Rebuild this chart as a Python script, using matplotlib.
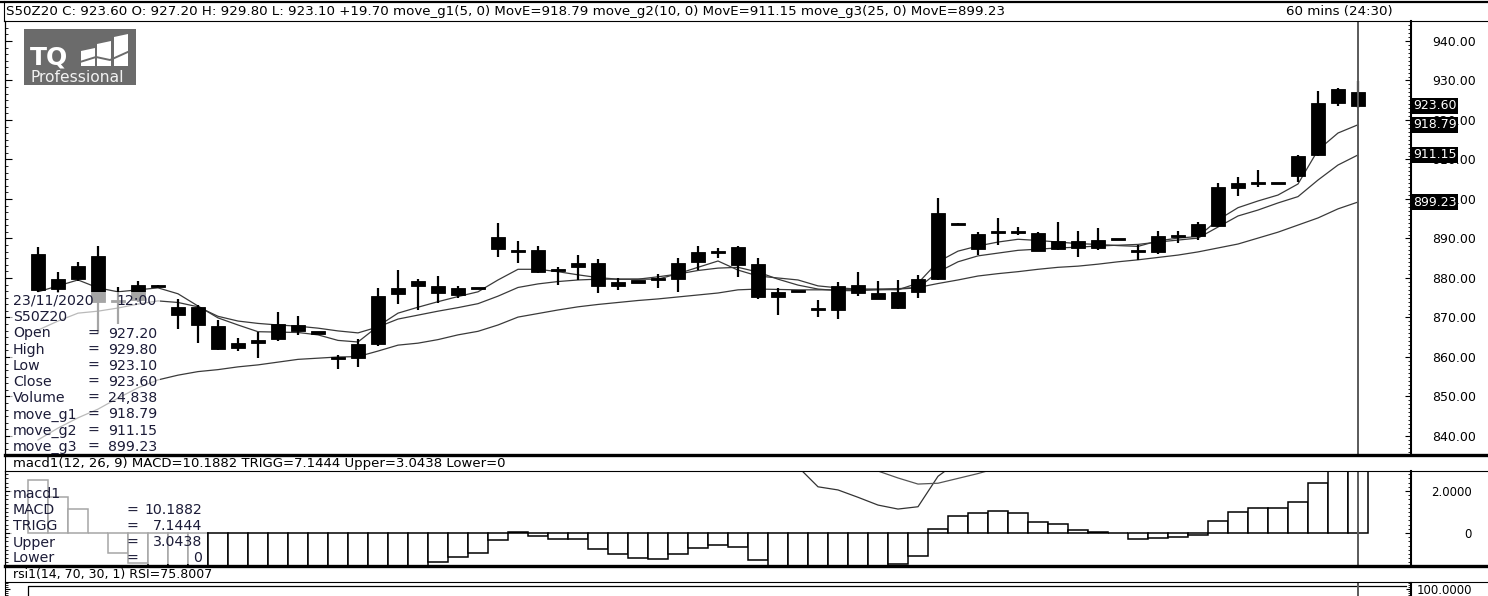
import numpy as np
import matplotlib
matplotlib.use('Agg')
import matplotlib.pyplot as plt
from matplotlib.patches import Rectangle, Polygon
from matplotlib.ticker import MultipleLocator, FuncFormatter
from matplotlib.transforms import blended_transform_factory

plt.rcParams['font.family'] = 'DejaVu Sans'

# --- hourly candles, S50Z20 (all drawn as filled black bodies) ---
highs = [887.8, 881.5, 884.1, 888.1, 877.7, 879.2, 878.2, 874.7, 873.2, 869.4,
         864.8, 866.4, 871.5, 870.4, 866.3, 860.5, 864.6, 877.5, 882.0, 879.7,
         880.6, 878.0, 877.5, 893.8, 889.4, 888.1, 882.7, 885.8, 884.7, 879.9,
         879.2, 880.9, 885.1, 888.1, 887.6, 888.1, 885.0, 877.4, 876.8, 874.4,
         879.1, 881.6, 879.2, 879.5, 880.8, 900.2, 893.8, 891.6, 895.1, 893.0,
         891.6, 894.1, 891.9, 892.6, 889.9, 888.4, 891.9, 892.0, 894.1, 904.1,
         905.5, 907.3, 904.1, 911.1, 927.4, 928.0, 929.8]
lows = [876.5, 876.2, 879.2, 866.1, 868.4, 874.0, 877.8, 867.1, 863.5, 861.8,
        861.6, 859.7, 864.1, 865.6, 866.1, 856.9, 857.5, 862.8, 873.4, 871.9,
        873.6, 874.9, 877.3, 885.4, 883.9, 881.3, 878.1, 879.5, 876.1, 877.0,
        879.0, 877.4, 876.5, 882.0, 885.1, 880.2, 874.6, 870.6, 876.6, 870.2,
        869.5, 875.4, 874.6, 872.1, 874.9, 879.5, 893.6, 885.8, 888.4, 890.9,
        886.8, 887.1, 885.4, 887.1, 889.7, 884.6, 886.1, 888.8, 889.6, 893.0,
        900.8, 903.0, 903.9, 904.4, 910.9, 923.5, 923.1]
body_top = [886.1, 879.7, 883.0, 885.6, 874.4, 878.2, 878.1, 872.7, 872.7, 867.9,
            863.6, 864.0, 868.4, 868.1, 866.25, 859.8, 863.3, 875.4, 877.5, 879.3,
            878.0, 877.5, 877.45, 890.3, 887.0, 887.1, 882.1, 883.7, 883.7, 878.9,
            879.15, 879.8, 883.7, 886.6, 886.6, 887.9, 883.5, 876.5, 876.75, 872.2,
            878.0, 878.2, 876.1, 876.5, 879.7, 896.4, 893.75, 891.1, 891.7, 891.8,
            891.3, 889.4, 889.4, 889.6, 889.85, 887.0, 890.6, 890.7, 893.6, 903.1,
            904.1, 904.1, 904.05, 910.9, 924.4, 927.8, 927.2]
body_bot = [877.0, 877.2, 879.7, 873.9, 874.1, 874.5, 877.9, 870.6, 868.1, 861.9,
            862.4, 863.8, 864.6, 866.7, 866.15, 859.6, 859.8, 863.2, 875.9, 878.0,
            876.1, 875.7, 877.35, 887.3, 886.8, 881.6, 881.9, 882.7, 878.0, 878.0,
            879.05, 879.6, 879.7, 884.1, 886.4, 883.3, 875.1, 875.3, 876.65, 872.0,
            871.9, 876.1, 874.7, 872.5, 876.5, 879.7, 893.65, 887.3, 891.5, 891.6,
            886.9, 887.3, 887.5, 887.5, 889.75, 886.8, 886.6, 890.5, 890.6, 893.2,
            902.9, 903.9, 903.95, 905.8, 911.1, 924.4, 923.6]

# moving averages (5, 10, 25 bars)
ma1 = [876.5, 878.0, 879.5, 877.5, 876.5, 877.0, 877.5, 876.0, 872.9, 869.9,
       868.1, 866.4, 866.3, 866.2, 865.6, 864.2, 863.8, 867.8, 871.1, 872.6,
       874.0, 875.3, 876.5, 879.5, 882.2, 882.2, 881.6, 880.8, 880.1, 879.7,
       879.7, 879.7, 881.1, 882.7, 884.3, 882.0, 880.5, 880.0, 879.5, 878.0,
       877.5, 877.2, 877.1, 877.0, 878.7, 884.1, 886.8, 888.1, 889.1, 889.8,
       889.5, 889.1, 888.7, 888.5, 888.2, 888.0, 889.4, 890.1, 890.5, 894.7,
       897.8, 899.5, 901.0, 903.8, 912.4, 916.7, 918.79]
ma2 = [866.8, 869.1, 871.1, 871.6, 872.4, 873.4, 874.2, 873.8, 872.7, 870.3,
       869.1, 868.5, 868.1, 867.8, 867.3, 866.6, 866.1, 867.6, 869.6, 870.6,
       871.6, 872.5, 873.5, 875.4, 877.6, 878.5, 879.1, 879.5, 879.7, 879.7,
       879.7, 880.3, 881.0, 881.9, 882.5, 882.7, 881.5, 879.7, 878.2, 877.2,
       876.8, 876.8, 877.0, 877.2, 877.5, 881.5, 884.1, 885.6, 886.3, 887.0,
       887.3, 887.6, 887.8, 888.1, 888.3, 888.5, 889.1, 889.6, 890.1, 892.9,
       895.7, 897.2, 899.0, 900.6, 904.8, 908.6, 911.15]
ma3 = [839.0, 842.0, 844.6, 846.8, 849.6, 852.2, 854.2, 855.4, 856.3, 856.8,
       857.5, 858.0, 858.7, 859.4, 859.7, 860.0, 860.1, 861.5, 863.0, 863.5,
       864.4, 865.6, 866.5, 868.1, 870.1, 871.0, 871.9, 872.7, 873.3, 873.8,
       874.3, 874.7, 875.2, 875.7, 876.2, 877.0, 877.2, 877.1, 877.0, 877.0,
       877.0, 877.1, 877.2, 877.3, 877.6, 878.6, 879.5, 880.5, 881.1, 881.6,
       882.2, 882.7, 883.0, 883.5, 884.1, 884.6, 885.2, 885.8, 886.6, 887.6,
       888.6, 890.1, 891.6, 893.4, 895.2, 897.5, 899.23]

# MACD histogram (MACD - TRIGG); values past the panel edge are estimates
hist = [2.52, 1.73, 1.14, 0.02, -0.97, -1.44, -1.8, -2.0, -2.1, -2.2,
        -2.3, -2.3, -2.2, -2.1, -2.0, -2.0, -1.9, -1.8, -1.7, -1.6,
        -1.38, -1.16, -0.97, -0.33, 0.07, -0.12, -0.27, -0.3, -0.78, -1.02,
        -1.18, -1.23, -1.02, -0.73, -0.55, -0.65, -1.3, -1.7, -1.9, -2.0,
        -2.0, -1.9, -1.7, -1.48, -1.1, 0.19, 0.82, 0.97, 1.05, 0.97,
        0.54, 0.41, 0.14, 0.06, 0.02, -0.3, -0.25, -0.2, -0.1, 0.59,
        0.98, 1.17, 1.17, 1.49, 2.4, 3.2, 3.0438]
nan = np.nan
# MACD / TRIGG lines only dip into view around bars 38-49
macd_line = [nan] * 37 + [4.2, 3.15, 2.2, 2.05, 1.7, 1.33, 1.14, 1.25, 2.7, 3.4] + [nan] * 20
trigg_line = [nan] * 41 + [3.3, 2.95, 2.62, 2.33, 2.37, 2.6, 2.83, 3.1] + [nan] * 18

header = ('S50Z20 C: 923.60 O: 927.20 H: 929.80 L: 923.10 +19.70 move_g1(5, 0) MovE=918.79 '
          'move_g2(10, 0) MovE=911.15 move_g3(25, 0) MovE=899.23')
macd_header = 'macd1(12, 26, 9) MACD=10.1882 TRIGG=7.1444 Upper=3.0438 Lower=0'
rsi_header = 'rsi1(14, 70, 30, 1) RSI=75.8007'
info_labels = ['Open', 'High', 'Low', 'Close', 'Volume', 'move_g1', 'move_g2', 'move_g3']
info_values = [f'{body_top[-1]:.2f}', f'{highs[-1]:.2f}', f'{lows[-1]:.2f}', f'{body_bot[-1]:.2f}',
               '24,838', f'{ma1[-1]:.2f}', f'{ma2[-1]:.2f}', f'{ma3[-1]:.2f}']
macd_labels = ['MACD', 'TRIGG', 'Upper', 'Lower']
macd_values = ['10.1882', '7.1444', '3.0438', '0']

W, H = 1488, 596
fig = plt.figure(figsize=(W / 100, H / 100), dpi=100)


def px_axes(x0, y0, x1, y1):
    return fig.add_axes([x0 / W, 1 - y1 / H, (x1 - x0) / W, (y1 - y0) / H])


n = len(highs)
x = np.arange(n)
XLIM = (-1.65, n + 1.65)
TXT = '#1c1c38'

# --- price panel ---
ax = px_axes(5, 21, 1411, 454)
ax.set_xlim(*XLIM)
ax.set_ylim(835.44, 945.06)
top, bot = np.array(body_top), np.array(body_bot)
hgt = np.maximum(top - bot, 0.55)
mid = (top + bot) / 2
for ma in (ma1, ma2, ma3):
    ax.plot(x, ma, color='#3a3a3a', lw=0.9, zorder=2)
ax.vlines(x, lows, highs, color='black', lw=1.6, zorder=3)
ax.bar(x, hgt, 0.7, bottom=mid - hgt / 2, color='black', ec='black', lw=0.6, zorder=3)
ax.axvline(n - 1, color='#5a5a5a', lw=1.4, zorder=4)
ax.set_xticks([])
ax.yaxis.tick_right()
ax.set_yticks(np.arange(840, 941, 10))
ax.yaxis.set_minor_locator(MultipleLocator(1))
ax.yaxis.set_major_formatter(FuncFormatter(lambda v, p: f'{v:.2f}'))
ax.tick_params(axis='y', which='both', direction='in', right=True, left=False,
               labelsize=9, pad=47)
ax.tick_params(axis='y', which='major', length=4, width=0.8)
ax.tick_params(axis='y', which='minor', length=2, width=0.6)
plt.setp(ax.get_yticklabels(), ha='right')
for s in ('top', 'bottom', 'left'):
    ax.spines[s].set_visible(False)
ax.spines['right'].set_linewidth(1.5)
sec = ax.secondary_yaxis('left')
sec.yaxis.set_major_locator(MultipleLocator(10))
sec.yaxis.set_minor_locator(MultipleLocator(10 / 6))
sec.tick_params(which='both', direction='in', labelleft=False)
sec.tick_params(which='major', length=5, width=0.8)
sec.tick_params(which='minor', length=1.8, width=0.6)
sec.spines['left'].set_linewidth(0.9)

# last close and the three averages tagged on the price scale
tr = blended_transform_factory(ax.transAxes, ax.transData)
for v in (body_bot[-1], ma1[-1], ma2[-1], ma3[-1]):
    ax.text(1.0 + 2 / 1406, v, f'{v:.2f}', transform=tr, ha='left', va='center',
            color='white', fontsize=9, clip_on=False, zorder=6,
            bbox=dict(boxstyle='square,pad=0.12', fc='black', ec='none'))

# --- MACD panel ---
axm = px_axes(5, 471, 1411, 565)
axm.set_xlim(*XLIM)
axm.set_ylim(-1.524, 2.952)
axm.bar(x, hist, 1.0, color='white', ec='black', lw=1.1, zorder=2)
axm.plot(x, macd_line, color='#333333', lw=0.9, zorder=3)
axm.plot(x, trigg_line, color='#555555', lw=0.9, zorder=3)
axm.axvline(n - 1, color='#5a5a5a', lw=1.4, zorder=4)
axm.set_xticks([])
axm.yaxis.tick_right()
axm.set_yticks([0, 2])
axm.set_yticklabels(['0', '2.0000'])
axm.yaxis.set_minor_locator(MultipleLocator(0.2))
axm.tick_params(axis='y', which='both', direction='in', left=True, right=True,
                labelleft=False, labelright=True, labelsize=8.5, pad=44)
axm.tick_params(axis='y', which='major', length=4, width=0.8)
axm.tick_params(axis='y', which='minor', length=2, width=0.6)
plt.setp(axm.get_yticklabels(), ha='right')
for s in ('top', 'bottom'):
    axm.spines[s].set_visible(False)
axm.spines['right'].set_linewidth(1.5)
axm.spines['left'].set_linewidth(0.9)

# --- RSI panel (only its top edge is in view) ---
axr = px_axes(5, 583, 1411, 677)
axr.set_xlim(*XLIM)
axr.set_ylim(-7.5, 107.5)
axr.plot([-0.5, -0.5, n + 1.4], [-10, 103.8, 103.8], color='black', lw=0.9)
axr.axvline(n - 1, color='#5a5a5a', lw=1.4)
axr.set_xticks([])
axr.yaxis.tick_right()
axr.set_yticks([100])
axr.set_yticklabels(['100.0000'])
axr.yaxis.set_minor_locator(MultipleLocator(2.5))
axr.tick_params(axis='y', which='both', direction='in', left=True, right=True,
                labelleft=False, labelright=True, labelsize=8.5, pad=44)
axr.tick_params(axis='y', which='minor', length=2, width=0.6)
plt.setp(axr.get_yticklabels(), ha='right')
for s in ('top', 'bottom'):
    axr.spines[s].set_visible(False)
axr.spines['right'].set_linewidth(1.5)

# --- overlay in pixel coordinates: frames, headers, logo, data boxes ---
ov = fig.add_axes([0, 0, 1, 1])
ov.set_xlim(0, W)
ov.set_ylim(H, 0)
ov.axis('off')
k = 'black'
ov.plot([0, W], [1.5, 1.5], color=k, lw=1.6)
ov.plot([4, W], [20.8, 20.8], color=k, lw=0.8)
ov.plot([4, 4], [1, 21], color=k, lw=0.8)
ov.plot([5, W], [454.8, 454.8], color=k, lw=2.4)
ov.plot([5, 5], [455, 471], color=k, lw=0.8)
ov.plot([5, W], [471, 471], color=k, lw=0.8)
ov.plot([5, W], [565.6, 565.6], color=k, lw=2.4)
ov.plot([5, 5], [566, 582], color=k, lw=0.8)
ov.plot([5, W], [582, 582], color=k, lw=0.8)

r = fig.canvas.get_renderer()


def fit(t, width):
    t.set_fontsize(t.get_fontsize() * width / t.get_window_extent(r).width)


head = ov.text(6, 12, header, va='center', ha='left', fontsize=9)
fit(head, 999)
ov.text(1393, 12, '60 mins (24:30)', va='center', ha='right', fontsize=head.get_fontsize())
fit(ov.text(13, 463.5, macd_header, va='center', ha='left', fontsize=9), 496)
fit(ov.text(13, 574.5, rsi_header, va='center', ha='left', fontsize=9), 200)

# logo
ov.add_patch(Rectangle((24, 29), 112, 56, fc='#6b6b6b', ec='none'))
ov.text(30, 57.5, 'TQ', color='white', fontsize=18, fontweight='bold', va='center', ha='left')
for xs, ytop in ((81, 48), (97, 41), (114, 34)):
    ov.add_patch(Polygon([(xs, ytop + 3), (xs + 14, ytop), (xs + 14, 66), (xs, 66)],
                         closed=True, fc='white', ec='none'))
ov.plot([80, 96, 110, 130], [62, 57, 60, 51], color='#6b6b6b', lw=1.4)
ov.text(30.5, 77.5, 'Professional', color='#f2f2f2', fontsize=11.2, va='center', ha='left')

# data window over the price panel
ov.add_patch(Rectangle((10, 292), 150, 162, fc='white', ec='none', alpha=0.65))
ov.text(13, 301, '23/11/2020', color=TXT, fontsize=10.2, va='center', ha='left')
ov.text(157, 301, '12:00', color=TXT, fontsize=10.2, va='center', ha='right')
ov.text(13, 317.2, 'S50Z20', color=TXT, fontsize=10.2, va='center', ha='left')
for i, (lab, val) in enumerate(zip(info_labels, info_values)):
    y = 333.5 + 16.2 * i
    ov.text(13, y, lab, color=TXT, fontsize=10.2, va='center', ha='left')
    ov.text(93, y, '=', color=TXT, fontsize=10.2, va='center', ha='center')
    ov.text(157, y, val, color=TXT, fontsize=10.2, va='center', ha='right')

# data window over the MACD panel
ov.add_patch(Rectangle((10, 474), 197, 90, fc='white', ec='none', alpha=0.65))
ov.text(13, 494.5, 'macd1', color=TXT, fontsize=10.2, va='center', ha='left')
for i, (lab, val) in enumerate(zip(macd_labels, macd_values)):
    y = 510.5 + 16 * i
    ov.text(13, y, lab, color=TXT, fontsize=10.2, va='center', ha='left')
    ov.text(132, y, '=', color=TXT, fontsize=10.2, va='center', ha='center')
    ov.text(202, y, val, color=TXT, fontsize=10.2, va='center', ha='right')

fig.savefig('out.png', dpi=100)
